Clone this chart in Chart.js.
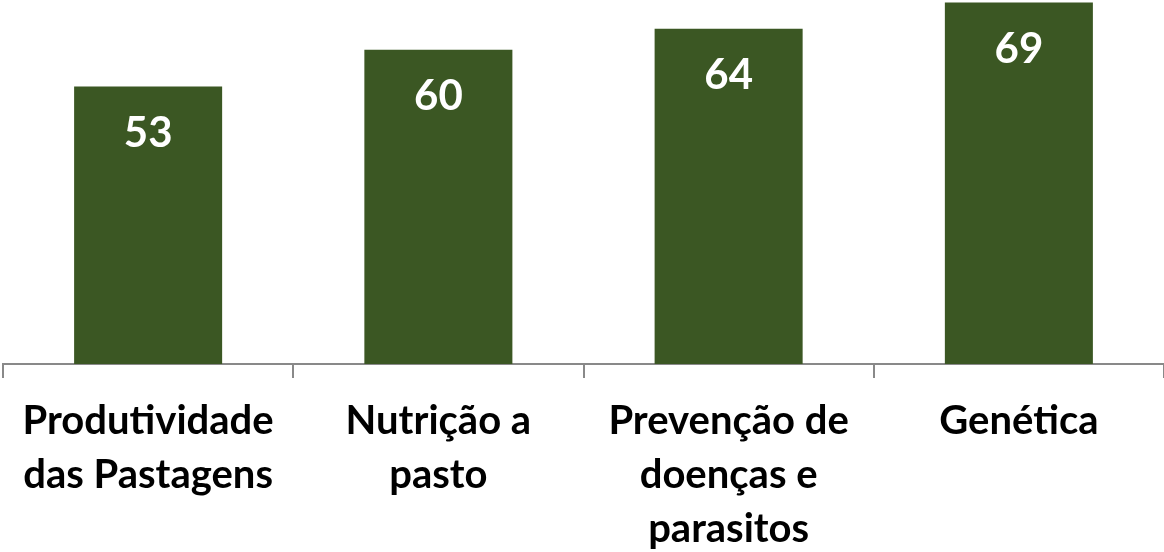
<!DOCTYPE html>
<html>
<head>
<meta charset="utf-8">
<script src="https://cdn.jsdelivr.net/npm/chart.js@4/dist/chart.umd.min.js"></script>
<style>
  html, body { margin: 0; padding: 0; background: #fff; }
  #wrap { width: 1164px; height: 552px; }
</style>
</head>
<body>
<div id="wrap"><canvas id="chart"></canvas></div>
<script>
const categories = [
  ['Produtividade', 'das Pastagens'],
  ['Nutrição a', 'pasto'],
  ['Prevenção de', 'doenças e', 'parasitos'],
  ['Genética']
]
const values = [53, 60, 64, 69]

const barColor = '#3b5723'
const axisColor = '#898989'

// white numbers inside the top of each bar
const valueLabels = {
  id: 'valueLabels',
  afterDatasetsDraw (chart) {
    const { ctx } = chart
    const meta = chart.getDatasetMeta(0)
    ctx.save()
    ctx.fillStyle = '#fff'
    ctx.font = 'bold 42px Lato'
    ctx.textAlign = 'center'
    ctx.textBaseline = 'middle'
    meta.data.forEach((bar, i) => {
      ctx.fillText(values[i], bar.x, bar.y + 47)
    })
    ctx.restore()
  }
}

new Chart('chart', {
  type: 'bar',
  data: {
    labels: categories,
    datasets: [{
      data: values,
      backgroundColor: barColor,
      categoryPercentage: 1,
      barPercentage: 0.51
    }]
  },
  options: {
    responsive: true,
    maintainAspectRatio: false,
    animation: false,
    layout: { padding: { left: 3, right: 0, top: 0, bottom: 0 } },
    plugins: {
      legend: { display: false },
      tooltip: { enabled: false }
    },
    scales: {
      x: {
        afterFit: scale => { scale.height = 188 },
        border: { color: axisColor, width: 2 },
        grid: {
          offset: true,
          drawOnChartArea: false,
          color: axisColor,
          lineWidth: 2,
          tickLength: 14
        },
        ticks: {
          color: '#000',
          padding: 16,
          maxRotation: 0,
          autoSkip: false,
          font: { family: 'Lato', weight: 'bold', size: 40, lineHeight: '54px' }
        }
      },
      y: {
        display: false,
        min: 0,
        max: 69.5
      }
    }
  },
  plugins: [valueLabels]
})
</script>
</body>
</html>
